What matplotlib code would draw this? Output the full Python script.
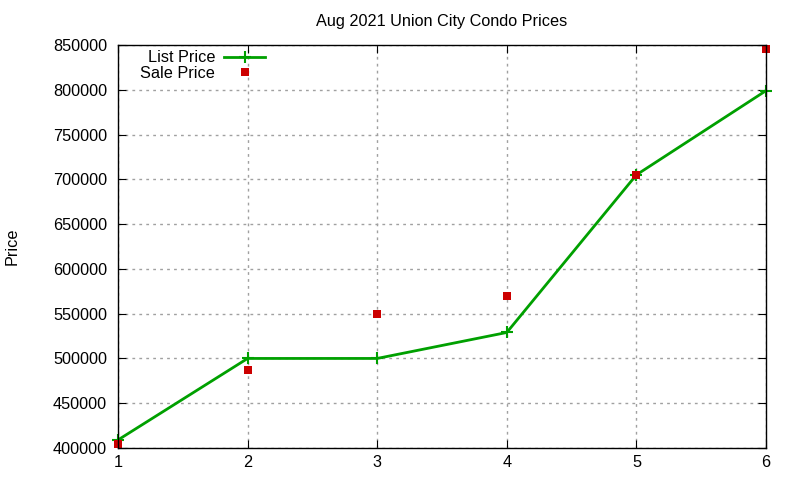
import matplotlib
matplotlib.use('Agg')
import matplotlib.pyplot as plt

plt.rcParams['font.family'] = ['Liberation Sans', 'DejaVu Sans']
plt.rcParams['font.size'] = 11.7

# listing index and prices
list_x = [1, 2, 3, 4, 5, 6]
list_price = [409000, 500000, 500000, 529000, 705000, 799000]

sale_x = [1, 2, 3, 4, 5, 6]
sale_price = [405000, 487000, 550000, 570000, 705000, 845000]

yticks = [400000, 450000, 500000, 550000, 600000, 650000, 700000, 750000, 800000, 850000]

fig = plt.figure(figsize=(8, 4.8), dpi=100)
ax = fig.add_axes([118/800, 1 - 448/480, (766-118)/800, (448-45)/480])

ax.plot(list_x, list_price, color='#00a000', lw=2, marker='+', ms=8, mew=1.5,
        label='List Price', clip_on=False, zorder=3)
ax.plot(sale_x, sale_price, ls='none', marker='s', ms=6, color='#cc0000', mew=0,
        label='Sale Price', clip_on=False, zorder=4)

ax.set_xlim(1, 6)
ax.set_ylim(400000, 850000)
ax.set_xticks(list_x)
ax.set_yticks(yticks)
ax.set_yticklabels([str(v) for v in yticks])
ax.grid(True, color='#a0a0a0', ls=(0, (2, 3)), lw=1)
ax.tick_params(direction='in', top=True, right=True, length=6, pad=8)
ax.tick_params(axis='x', pad=5)
for s in ax.spines.values():
    s.set_linewidth(1)
    s.set_zorder(5)

ax.set_title('Aug 2021 Union City Condo Prices', fontsize=11.7, pad=14)
fig.text(12/800, 1 - 246/480, 'Price', rotation=90, va='center', ha='center')

leg = ax.legend(loc='upper left', bbox_to_anchor=(0.017, 1.015), frameon=False,
                markerfirst=False, numpoints=1, handlelength=2.5,
                handletextpad=0.55, labelspacing=0.05, borderaxespad=0.3)
for t in leg.get_texts():
    t.set_ha('right')
leg._legend_box.align = 'right'

fig.savefig('out.png', dpi=100)
